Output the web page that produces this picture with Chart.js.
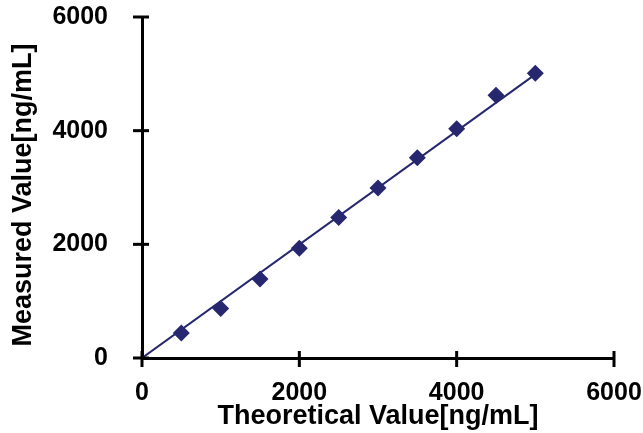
<!DOCTYPE html>
<html>
<head>
<meta charset="utf-8">
<script src="https://cdn.jsdelivr.net/npm/chart.js@4"></script>
<style>
  html, body { margin: 0; padding: 0; background: #fff; }
  #wrap { width: 643px; height: 433px; }
</style>
</head>
<body>
<div id="wrap"><canvas id="c" width="643" height="433"></canvas></div>
<script>
const theoretical = [500, 1000, 1500, 2000, 2500, 3000, 3500, 4000, 4500, 5000];
const measured = [440, 870, 1390, 1930, 2470, 2990, 3525, 4035, 4625, 5010];
const trendX = [0, 5000];
const trendY = [0, 4990];
const axisTicks = [0, 2000, 4000, 6000];

const NAVY = "#26276f";
const FONT = '"Liberation Sans", Arial, sans-serif';

// Striche, die die Achse kreuzen (wie im Original)
const crossTicks = {
  id: "crossTicks",
  afterDraw(chart) {
    const { ctx, scales: { x, y } } = chart;
    ctx.save();
    ctx.strokeStyle = "#000";
    ctx.lineWidth = 3;
    for (const v of axisTicks) {
      const px = x.getPixelForValue(v);
      ctx.beginPath();
      ctx.moveTo(px, y.bottom - 7);
      ctx.lineTo(px, y.bottom + 9);
      ctx.stroke();
      const py = y.getPixelForValue(v);
      ctx.beginPath();
      ctx.moveTo(x.left - 9, py);
      ctx.lineTo(x.left + 7, py);
      ctx.stroke();
    }
    ctx.restore();
  },
};

const tickFont = { family: FONT, size: 25, weight: "bold" };
const titleFont = { family: FONT, size: 27, weight: "bold" };
const plain = (v) => String(v);

// Randbedarf der Beschriftungen ignorieren, Rand kommt aus layout.padding
function noOverflow(s) {
  s.paddingTop = 0;
  s.paddingBottom = 0;
  s.paddingLeft = 0;
  s.paddingRight = 0;
}

new Chart(document.getElementById("c"), {
  type: "scatter",
  data: {
    datasets: [
      {
        label: "Measured",
        data: theoretical.map((t, i) => ({ x: t, y: measured[i] })),
        pointStyle: "rectRot",
        pointRadius: 8.5,
        pointHoverRadius: 8.5,
        backgroundColor: NAVY,
        borderColor: NAVY,
        borderWidth: 0,
        order: 1,
      },
      {
        label: "Fit",
        type: "line",
        data: trendX.map((t, i) => ({ x: t, y: trendY[i] })),
        borderColor: NAVY,
        borderWidth: 2,
        pointRadius: 0,
        fill: false,
        order: 2,
      },
    ],
  },
  options: {
    responsive: false,
    animation: false,
    layout: { padding: { left: 0, right: 29, top: 17, bottom: 0 } },
    plugins: { legend: { display: false }, tooltip: { enabled: false } },
    scales: {
      x: {
        type: "linear",
        min: 0,
        max: 6000,
        afterBuildTicks(s) { s.ticks = axisTicks.map((v) => ({ value: v })); },
        afterFit(s) { s.height = 75; noOverflow(s); },
        grid: { display: false, drawTicks: false },
        border: { color: "#000", width: 3 },
        ticks: { color: "#000", font: tickFont, padding: 20, maxRotation: 0, callback: plain },
        title: {
          display: true,
          text: "Theoretical Value[ng/mL]",
          color: "#000",
          font: titleFont,
          padding: { top: 0, bottom: 0 },
        },
      },
      y: {
        type: "linear",
        min: 0,
        max: 6000,
        afterBuildTicks(s) { s.ticks = axisTicks.map((v) => ({ value: v })); },
        afterFit(s) { s.width = 142; noOverflow(s); },
        grid: { display: false, drawTicks: false },
        border: { color: "#000", width: 3 },
        ticks: { color: "#000", font: tickFont, padding: 34, callback: plain },
        title: {
          display: true,
          // zwei Leerzeichen am Ende schieben den Titel etwas nach unten
          text: "Measured Value[ng/mL]  ",
          color: "#000",
          font: titleFont,
          padding: { top: 7, bottom: 0 },
        },
      },
    },
  },
  plugins: [crossTicks],
});
</script>
</body>
</html>
